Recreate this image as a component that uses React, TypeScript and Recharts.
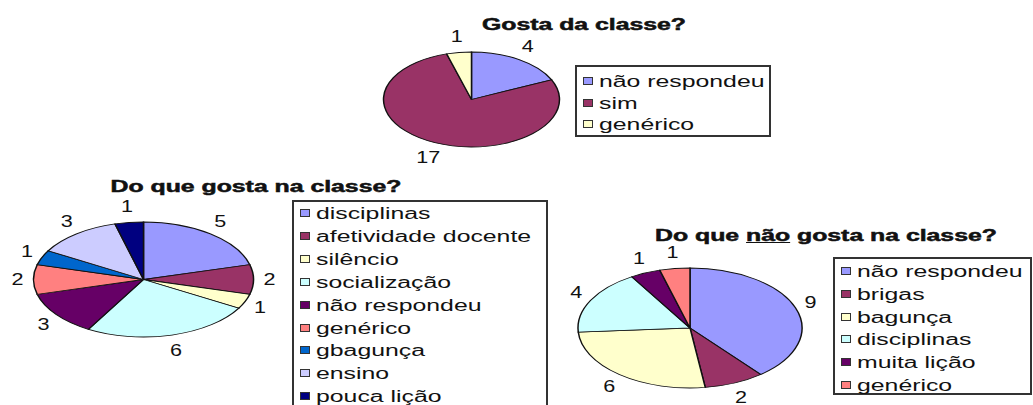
import React from 'react';
import { PieChart, Pie, Cell } from 'recharts';

// Gosta da classe?
const gostaNames = ['não respondeu', 'sim', 'genérico'];
const gostaValues = [4, 17, 1];
const gostaColors = ['#9999FF', '#993366', '#FFFFCC'];

// Do que gosta na classe?
const likeNames = [
  'disciplinas',
  'afetividade docente',
  'silêncio',
  'socialização',
  'não respondeu',
  'genérico',
  'gbagunça',
  'ensino',
  'pouca lição',
];
const likeValues = [5, 2, 1, 6, 3, 2, 1, 3, 1];
const likeColors = ['#9999FF', '#993366', '#FFFFCC', '#CCFFFF', '#660066', '#FF8080', '#0066CC', '#CCCCFF', '#000080'];

// Do que não gosta na classe?
const dislikeNames = ['não respondeu', 'brigas', 'bagunça', 'disciplinas', 'muita lição', 'genérico'];
const dislikeValues = [9, 2, 6, 4, 1, 1];
const dislikeColors = ['#9999FF', '#993366', '#FFFFCC', '#CCFFFF', '#660066', '#FF8080'];

const FONT = '"Liberation Sans", Arial, sans-serif';
const STRETCH = 1.55; // the scan is stretched sideways

const toRows = (names: string[], values: number[]) =>
  names.map((name, i) => ({ name, value: values[i] }));

interface PieProps {
  names: string[];
  values: number[];
  colors: string[];
  cx: number;
  cy: number;
  rx: number;
  ry: number;
}

// round pie squashed into an ellipse with a css scale, labels un-squashed
const EllipsePie: React.FC<PieProps> = ({ names, values, colors, cx, cy, rx, ry }) => {
  const pad = 40;
  const size = 2 * (ry + pad);
  const sx = rx / ry;
  const off = 16;

  const renderLabel = (p: any) => {
    const rad = (Math.PI / 180) * p.midAngle;
    const x = p.cx + (p.outerRadius + off / sx) * Math.cos(rad);
    const y = p.cy - (p.outerRadius + off) * Math.sin(rad);
    return (
      <text
        x={x}
        y={y}
        textAnchor="middle"
        dominantBaseline="central"
        fontFamily={FONT}
        fontSize={16}
        fill="#111"
        transform={`translate(${x} ${y}) scale(${1.35 / sx} 1) translate(${-x} ${-y})`}
      >
        {p.value}
      </text>
    );
  };

  return (
    <div
      style={{
        position: 'absolute',
        left: cx - size / 2,
        top: cy - size / 2,
        width: size,
        height: size,
        transform: `scaleX(${sx})`,
        transformOrigin: 'center',
      }}
    >
      <PieChart width={size} height={size} margin={{ top: 0, right: 0, bottom: 0, left: 0 }}>
        <Pie
          data={toRows(names, values)}
          dataKey="value"
          nameKey="name"
          cx="50%"
          cy="50%"
          outerRadius={ry}
          startAngle={90}
          endAngle={-270}
          stroke="#111"
          strokeWidth={0.8}
          label={renderLabel}
          labelLine={false}
          isAnimationActive={false}
        >
          {values.map((_, i) => (
            <Cell key={i} fill={colors[i]} />
          ))}
        </Pie>
      </PieChart>
    </div>
  );
};

const Title: React.FC<{ x: number; y: number; children: React.ReactNode }> = ({ x, y, children }) => (
  <div
    style={{
      position: 'absolute',
      left: x,
      top: y,
      transform: `translate(-50%, -50%) scaleX(${STRETCH})`,
      fontFamily: FONT,
      fontWeight: 700,
      fontSize: 16,
      lineHeight: 1,
      whiteSpace: 'nowrap',
      color: '#111',
      WebkitTextStroke: '0.5px #111',
    }}
  >
    {children}
  </div>
);

interface LegendProps {
  names: string[];
  colors: string[];
  left: number;
  top: number;
  width: number;
  height: number;
  firstY: number;
  step: number;
}

const BoxLegend: React.FC<LegendProps> = ({ names, colors, left, top, width, height, firstY, step }) => (
  <div
    style={{
      position: 'absolute',
      left,
      top,
      width,
      height,
      border: '2px solid #333',
      boxSizing: 'border-box',
      background: '#fff',
    }}
  >
    {names.map((n, i) => {
      const y = firstY + i * step - top;
      return (
        <React.Fragment key={n}>
          <div
            style={{
              position: 'absolute',
              left: 6,
              top: y - 5,
              width: 10,
              height: 8,
              background: colors[i],
              border: '1px solid #333',
              boxSizing: 'border-box',
            }}
          />
          <div
            style={{
              position: 'absolute',
              left: 22,
              top: y,
              transformOrigin: 'left center',
              transform: `translateY(-50%) scaleX(${STRETCH})`,
              fontFamily: FONT,
              fontSize: 16,
              lineHeight: 1,
              whiteSpace: 'nowrap',
              color: '#111',
            }}
          >
            {n}
          </div>
        </React.Fragment>
      );
    })}
  </div>
);

const App: React.FC = () => (
  <div
    style={{
      position: 'absolute',
      left: 0,
      top: 0,
      width: 1033,
      height: 405,
      background: '#fff',
      overflow: 'hidden',
    }}
  >
    <Title x={584} y={25}>Gosta da classe?</Title>
    <EllipsePie names={gostaNames} values={gostaValues} colors={gostaColors} cx={471} cy={99.5} rx={88} ry={47.5} />
    <BoxLegend names={gostaNames} colors={gostaColors} left={575} top={65} width={196} height={72} firstY={80} step={21.5} />

    <Title x={256} y={187}>Do que gosta na classe?</Title>
    <EllipsePie names={likeNames} values={likeValues} colors={likeColors} cx={143} cy={279.5} rx={110} ry={57.5} />
    <BoxLegend names={likeNames} colors={likeColors} left={292} top={200} width={256} height={215} firstY={212} step={22.9} />

    <Title x={826} y={236}>
      Do que <u>não</u> gosta na classe?
    </Title>
    <EllipsePie names={dislikeNames} values={dislikeValues} colors={dislikeColors} cx={690} cy={328} rx={112} ry={60} />
    <BoxLegend names={dislikeNames} colors={dislikeColors} left={833} top={257} width={199} height={138} firstY={270} step={22.8} />
  </div>
);

export default App;
